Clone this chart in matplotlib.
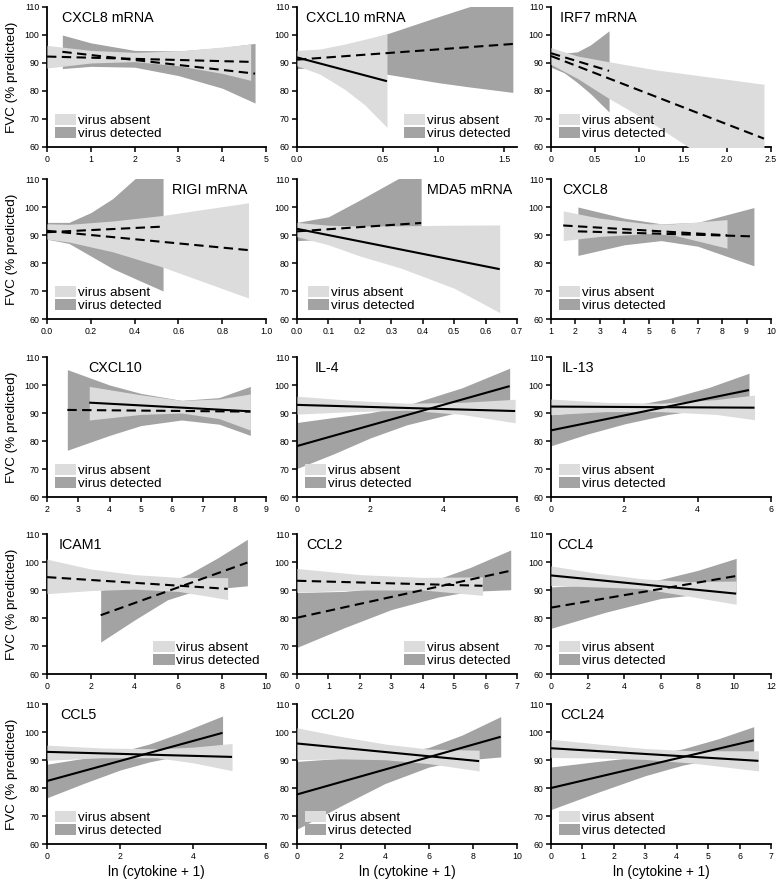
import numpy as np
import matplotlib.pyplot as plt
from matplotlib.patches import Patch

plt.rcParams["font.family"] = ["Liberation Sans", "DejaVu Sans"]

LIGHT = "#dcdcdc"
DARK = "#a3a3a3"

# ---- data: band edges (lo/hi) and fitted line ends ----
# x values are ln(cytokine + 1); y values are FVC (% predicted)

cxcl8m_absent = dict(x=[0, 1, 2, 3, 4, 4.65], lo=[88.2, 90, 90.5, 89, 86.3, 83.8],
                     hi=[96.3, 94.5, 93.8, 94.3, 95.7, 96.8], fit=[92.3, 90.4], dash=True)
cxcl8m_detected = dict(x=[0.35, 1, 2, 3, 4, 4.75], lo=[88, 88.8, 88.5, 85.5, 81, 75.7],
                       hi=[100, 97.2, 94.5, 94.3, 95.5, 97], fit=[94, 86.2], dash=True)

cxcl10m_absent = dict(x=[0, 0.134, 0.28, 0.395, 0.536], lo=[89, 86, 80.5, 75, 67],
                      hi=[94.5, 95, 96.8, 98.5, 100.4], fit=[92, 83.5], dash=False)
cxcl10m_detected = dict(x=[0, 0.25, 0.536, 1.0, 1.23, 1.568], lo=[88, 88.5, 86, 83, 81.5, 79.5],
                        hi=[94, 95.5, 100.4, 106.5, 110, 114], fit=[91.2, 96.8], dash=True)

irf7m_absent = dict(x=[0, 0.3, 0.65, 1.2, 1.8, 2.42], lo=[89.5, 84.5, 77.5, 67.5, 55, 42],
                    hi=[95.5, 92.5, 90.5, 87.5, 85, 82.4], fit=[92.5, 63], dash=True)
irf7m_detected = dict(x=[0, 0.15, 0.3, 0.45, 0.66], lo=[88.5, 86.5, 83, 79, 72.5],
                      hi=[95, 93.5, 94, 96.5, 101.5], fit=[93.5, 87.2], dash=True)

rigim_absent = dict(x=[0, 0.1, 0.3, 0.53, 0.92], lo=[88.5, 87.5, 84, 78.5, 67.5],
                    hi=[94, 93.8, 95, 97, 101.5], fit=[91.5, 84.6], dash=True)
rigim_detected = dict(x=[0, 0.1, 0.2, 0.3, 0.4, 0.53], lo=[88.5, 87, 82.5, 78, 74.5, 70],
                      hi=[94.5, 94.5, 98, 103, 110, 118], fit=[91, 93], dash=True)

mda5m_absent = dict(x=[0, 0.1, 0.2, 0.33, 0.5, 0.645], lo=[89.4, 86.5, 82.5, 78.2, 71, 62.3],
                    hi=[94.5, 93.5, 93.2, 93.3, 93.5, 93.6], fit=[92.2, 77.8], dash=False)
mda5m_detected = dict(x=[0, 0.1, 0.2, 0.32, 0.395], lo=[88, 88.5, 89, 88.5, 88],
                      hi=[94.5, 96.5, 102.5, 110, 114], fit=[91.3, 94.3], dash=True)

cxcl8_absent = dict(x=[1.5, 3, 5, 6, 8.2], lo=[88, 89.5, 90.5, 90, 85.3],
                    hi=[98.6, 96, 94, 94, 95.5], fit=[93.4, 89.9], dash=True)
cxcl8_detected = dict(x=[2.1, 4, 5.5, 7, 9.3], lo=[82.7, 86.5, 88, 86, 79],
                      hi=[100, 96, 94, 94.5, 99.8], fit=[91.3, 89.5], dash=True)

cxcl10_absent = dict(x=[3.35, 5, 6.3, 7.5, 8.5], lo=[87.5, 89.5, 90, 88, 83.9],
                     hi=[99.5, 96.5, 94.5, 95, 96.8], fit=[93.7, 90.6], dash=False)
cxcl10_detected = dict(x=[2.65, 4, 5, 6.3, 7.5, 8.5], lo=[76.7, 82, 85.5, 87.5, 86, 82],
                       hi=[105.5, 100, 97, 94.5, 95.5, 99.5], fit=[91.1, 90.5], dash=True)

il4_absent = dict(x=[0, 1.5, 3, 4.5, 5.95], lo=[89.6, 90.5, 91, 89.5, 86.5],
                  hi=[96, 94.5, 93.5, 93.8, 94.9], fit=[92.9, 90.7], dash=False)
il4_detected = dict(x=[0, 1, 2, 3, 4.5, 5.8], lo=[70.2, 75.4, 81.1, 85.8, 90.6, 93.2],
                    hi=[86.6, 88.4, 90.1, 92.8, 99, 106], fit=[78.2, 99.6], dash=False)

il13_absent = dict(x=[0, 1.5, 3, 4.5, 5.55], lo=[89.4, 90.5, 90.5, 89.5, 87.6],
                   hi=[95, 93.8, 93.5, 94.8, 96.4], fit=[92.3, 91.9], dash=False)
il13_detected = dict(x=[0, 1, 2, 3.2, 4.3, 5.4], lo=[78.3, 82.5, 86.1, 89.5, 91.5, 92.5],
                     hi=[89.4, 90.5, 92.1, 95.1, 99.1, 104.2], fit=[83.8, 98.2], dash=False)

icam1_absent = dict(x=[0, 2, 4, 6, 8.25], lo=[88.7, 89.8, 90.3, 89.5, 86.6],
                    hi=[101, 97.5, 95.5, 94.5, 94.4], fit=[94.6, 90.4], dash=True)
icam1_detected = dict(x=[2.45, 4, 5.5, 6.5, 7.8, 9.15], lo=[71.4, 79.3, 86.5, 89, 90.5, 91.5],
                      hi=[90, 91.3, 92.5, 95.8, 101.5, 108.1], fit=[81, 99.8], dash=True)

ccl2_absent = dict(x=[0, 2, 4, 5.9], lo=[89.2, 90, 90, 88.1],
                   hi=[97.7, 95.5, 94.5, 94.7], fit=[93.3, 91.5], dash=True)
ccl2_detected = dict(x=[0, 1.5, 3, 4.5, 5.5, 6.8], lo=[69.5, 76.5, 83, 87.5, 89.5, 90.1],
                     hi=[89.1, 89.5, 91, 94, 98, 104.3], fit=[80.1, 96.9], dash=True)

ccl4_absent = dict(x=[0, 2.5, 5, 7.5, 10.1], lo=[91.6, 91.1, 90.5, 87.8, 84.9],
                   hi=[98.6, 96, 94, 93, 93.2], fit=[95.2, 88.7], dash=False)
ccl4_detected = dict(x=[0, 3, 6, 8, 10.1], lo=[76.3, 82.1, 87, 88.4, 88.8],
                     hi=[91.1, 92.1, 93.8, 97, 101.3], fit=[83.7, 95], dash=True)

ccl5_absent = dict(x=[0, 1.5, 3, 4, 5.07], lo=[89.9, 90.8, 90.8, 89, 86.2],
                   hi=[95.3, 94.3, 94, 94.6, 95.9], fit=[92.9, 91.1], dash=False)
ccl5_detected = dict(x=[0, 1, 2, 2.8, 3.6, 4.81], lo=[76.5, 81.6, 86.4, 89.3, 91.4, 93.7],
                     hi=[88.5, 90.6, 92.9, 95.7, 99.4, 105.7], fit=[82.5, 99.7], dash=False)

ccl20_absent = dict(x=[0, 2, 4, 6, 8.28], lo=[90.1, 90.4, 90.1, 88.7, 86.1],
                    hi=[101.5, 98.4, 95.7, 93.9, 93.5], fit=[95.9, 89.6], dash=False)
ccl20_detected = dict(x=[0, 2, 4, 6, 7.5, 9.26], lo=[65.3, 73.6, 81.6, 87.5, 89.9, 91.1],
                      hi=[89.5, 90.6, 91.6, 94.5, 98.9, 105.5], fit=[77.7, 98.3], dash=False)

ccl24_absent = dict(x=[0, 1.5, 3, 4.5, 6.6], lo=[90.9, 90.7, 90.2, 88.9, 86.1],
                    hi=[97.4, 95.7, 94.1, 93.3, 93.3], fit=[94.2, 89.7], dash=False)
ccl24_detected = dict(x=[0, 1.5, 3, 4.2, 5.3, 6.45], lo=[72.3, 78.5, 84.4, 88.2, 90.5, 92.1],
                      hi=[87.5, 89.5, 91.4, 94, 97.5, 101.9], fit=[80, 97], dash=False)

titles = ["CXCL8 mRNA", "CXCL10 mRNA", "IRF7 mRNA",
          "RIGI mRNA", "MDA5 mRNA", "CXCL8",
          "CXCL10", "IL-4", "IL-13",
          "ICAM1", "CCL2", "CCL4",
          "CCL5", "CCL20", "CCL24"]
groups = [(cxcl8m_absent, cxcl8m_detected), (cxcl10m_absent, cxcl10m_detected),
          (irf7m_absent, irf7m_detected), (rigim_absent, rigim_detected),
          (mda5m_absent, mda5m_detected), (cxcl8_absent, cxcl8_detected),
          (cxcl10_absent, cxcl10_detected), (il4_absent, il4_detected),
          (il13_absent, il13_detected), (icam1_absent, icam1_detected),
          (ccl2_absent, ccl2_detected), (ccl4_absent, ccl4_detected),
          (ccl5_absent, ccl5_detected), (ccl20_absent, ccl20_detected),
          (ccl24_absent, ccl24_detected)]
xlims = [(0, 5), (0, 1.6), (0, 2.5), (0, 1), (0, 0.7), (1, 10),
         (2, 9), (0, 6), (0, 6), (0, 10), (0, 7), (0, 12),
         (0, 6), (0, 10), (0, 7)]
xticks = [[0, 1, 2, 3, 4, 5], [0, 0.5, 1.0, 1.5], [0, 0.5, 1.0, 1.5, 2.0, 2.5],
          [0, 0.2, 0.4, 0.6, 0.8, 1.0], [0, 0.1, 0.2, 0.3, 0.4, 0.5, 0.6, 0.7],
          list(range(1, 11)), list(range(2, 10)), [0, 2, 4, 6], [0, 2, 4, 6],
          [0, 2, 4, 6, 8, 10], list(range(0, 8)), [0, 2, 4, 6, 8, 10, 12],
          [0, 2, 4, 6], [0, 2, 4, 6, 8, 10], list(range(0, 8))]
xticklabels = [None, ["0.0", "0.5", "1.0", "1.5"], ["0", "0.5", "1.0", "1.5", "2.0", "2.5"],
               ["0.0", "0.2", "0.4", "0.6", "0.8", "1.0"],
               ["0.0", "0.1", "0.2", "0.3", "0.4", "0.5", "0.6", "0.7"],
               None, None, None, None, None, None, None, None, None, None]
yticks = [60, 70, 80, 90, 100, 110]

title_x = [0.07, 0.04, 0.04, 0.57, 0.59, 0.05, 0.19, 0.08, 0.05,
           0.055, 0.04, 0.03, 0.06, 0.06, 0.04]
legend_right = [False, True, False, False, False, False, False, False, False,
                True, True, False, False, False, False]

# the CXCL10 mRNA panel has an uneven axis in the original
seg_x = [0, 0.5, 1.0, 1.5, 1.6]
seg_px = [0, 86, 141, 207, 220]

# ---- layout in pixels ----
W, H = 778, 880
col_left = [47, 297, 551]
col_w = [219, 220, 220]
row_top = [7, 179, 357, 534, 704]
row_h = 140

fig = plt.figure(figsize=(W / 100, H / 100), dpi=100)


def draw_group(ax, g, color, z):
    x = g["x"]
    ax.fill_between(x, g["lo"], g["hi"], color=color, lw=0, zorder=z)
    ls = (0, (4.5, 2.6)) if g["dash"] else "-"
    ax.plot([x[0], x[-1]], g["fit"], color="k", lw=1.5, ls=ls, zorder=5,
            solid_capstyle="butt", dash_capstyle="butt")


for i, title in enumerate(titles):
    r, c = divmod(i, 3)
    left, w = col_left[c], col_w[c]
    ax = fig.add_axes([left / W, 1 - (row_top[r] + row_h) / H, w / W, row_h / H])
    if i == 1:
        ax.set_xscale("function", functions=(lambda v: np.interp(v, seg_x, seg_px),
                                             lambda v: np.interp(v, seg_px, seg_x)))
    absent, detected = groups[i]
    draw_group(ax, detected, DARK, 2)
    draw_group(ax, absent, LIGHT, 3)

    ax.set_xlim(*xlims[i])
    ax.set_ylim(60, 110)
    ax.set_xticks(xticks[i])
    if xticklabels[i] is not None:
        ax.set_xticklabels(xticklabels[i])
    ax.set_yticks(yticks)
    for s in ["top", "right"]:
        ax.spines[s].set_visible(False)
    for s in ["left", "bottom"]:
        ax.spines[s].set_linewidth(1.3)
    ax.tick_params(direction="out", length=3.5, width=1.1, labelsize=6.3, pad=2)

    ax.text(title_x[i], 0.92, title, transform=ax.transAxes, fontsize=10.3,
            ha="left", va="center")

    handles = [Patch(facecolor=LIGHT, edgecolor="none", label="virus absent"),
               Patch(facecolor=DARK, edgecolor="none", label="virus detected")]
    if legend_right[i]:
        loc, anchor = "lower right", (1 - 6 / w, 7 / row_h)
    else:
        pad = 11 if i == 4 else 8
        loc, anchor = "lower left", (pad / w, 7 / row_h)
    ax.legend(handles=handles, loc=loc, bbox_to_anchor=anchor, frameon=False,
              fontsize=9.6, handlelength=1.6, handleheight=0.9, handletextpad=0.15,
              labelspacing=0.0, borderpad=0, borderaxespad=0)

for r in range(5):
    yc = 1 - (row_top[r] + row_h / 2) / H
    fig.text(12 / W, yc, "FVC (% predicted)", rotation=90, ha="center", va="center",
             fontsize=9.7)

for c in range(3):
    xc = (col_left[c] + col_w[c] / 2) / W
    fig.text(xc, (H - 872) / H, "ln (cytokine + 1)", ha="center", va="center",
             fontsize=9.8)

fig.savefig("out.png", dpi=100)
